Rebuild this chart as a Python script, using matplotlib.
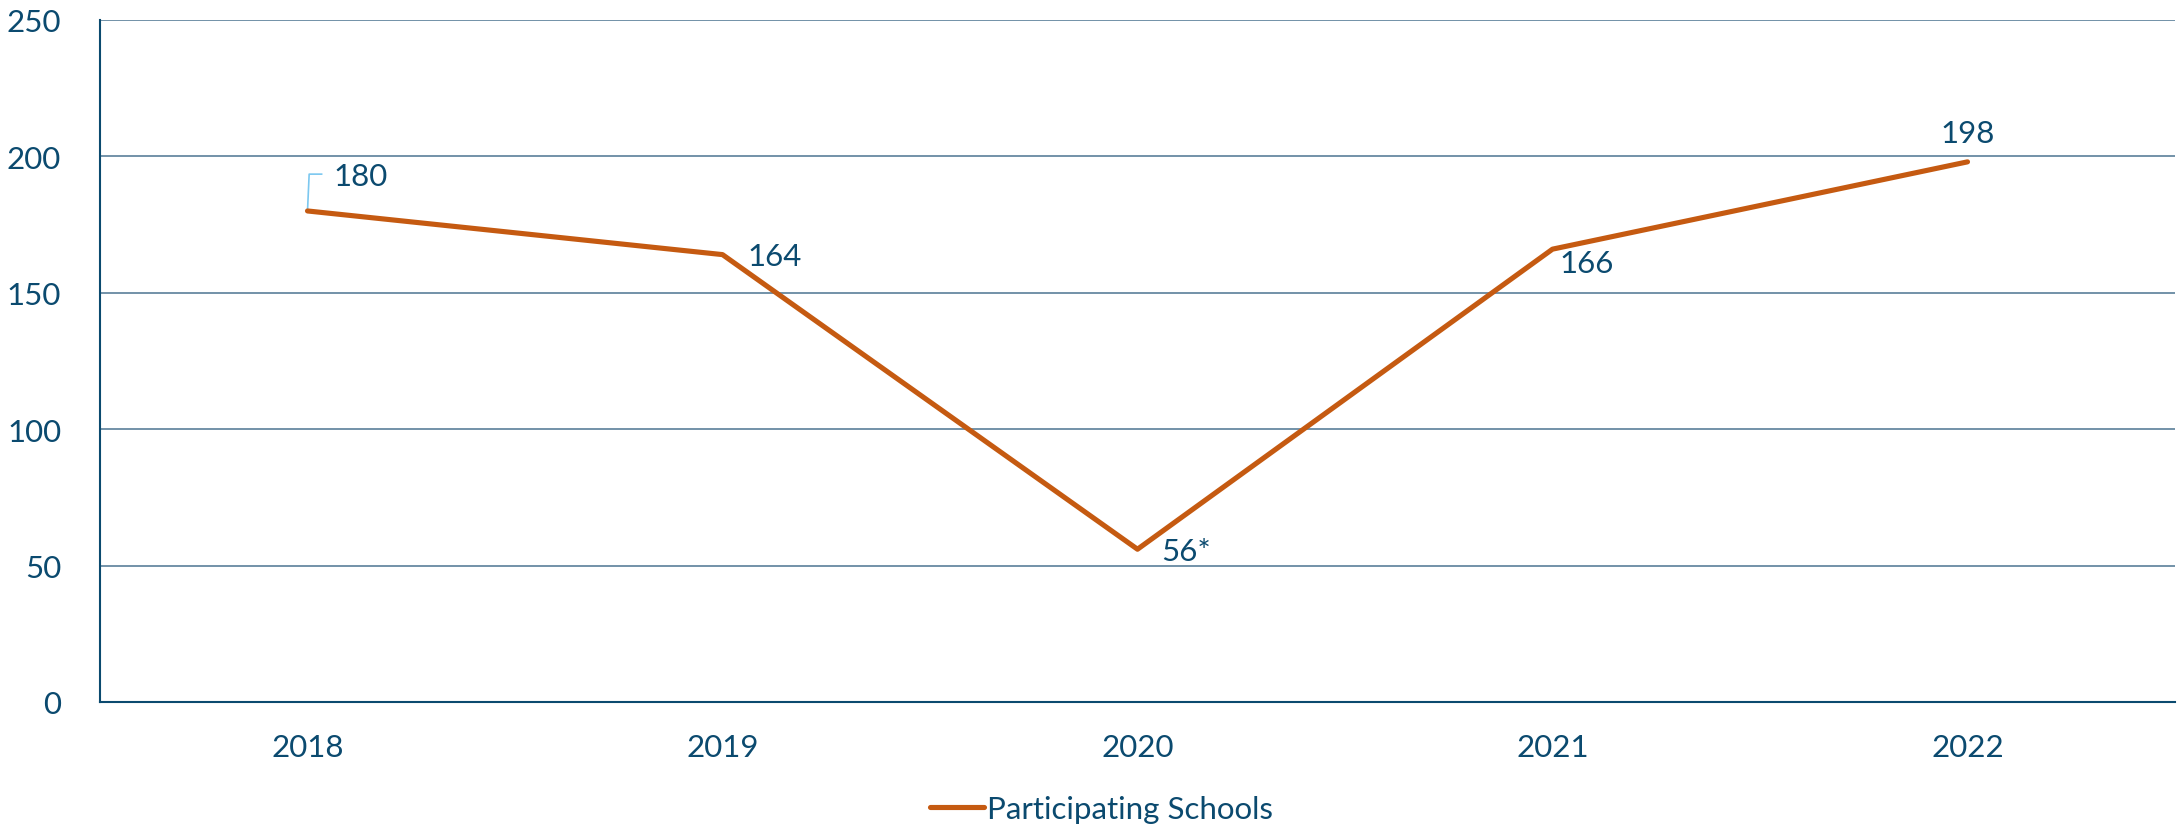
import matplotlib
matplotlib.use("Agg")
from matplotlib import pyplot as plt

# data
years = ['2018', '2019', '2020', '2021', '2022']
schools = [180, 164, 56, 166, 198]
labels = ['180', '164', '56*', '166', '198']

navy = '#0b4a6f'
orange = '#c55a11'
grid_col = '#5a7f99'
fs = 22.5

plt.rcParams['font.family'] = ['Lato', 'DejaVu Sans']

fig = plt.figure(figsize=(21.79, 8.29), dpi=100)
ax = fig.add_axes([100 / 2179, 1 - 703 / 829, 2075 / 2179, 682 / 829])

x = range(len(years))
ax.plot(x, schools, color=orange, lw=3.7, solid_capstyle='round',
        label='Participating Schools', zorder=3)

# data labels (offsets in points)
offsets = [(19, 25, 'left'), (18, -1, 'left'), (17, -1, 'left'), (5, -10, 'left'), (0, 21, 'center')]
for i, (dx, dy, ha) in enumerate(offsets):
    ax.annotate(labels[i], (i, schools[i]), xytext=(dx, dy), textcoords='offset points',
                fontsize=fs, color=navy, va='center', ha=ha)
# leader line for first label
ax.plot([0, 0.004, 0.034], [schools[0], 193.5, 193.5], color='#7cc8f0', lw=1.2, zorder=2)

ax.set_xlim(-0.5, 4.5)
ax.set_ylim(0, 250)
ax.set_yticks(range(0, 251, 50))
ax.set_xticks(list(x))
ax.set_xticklabels(years)
ax.yaxis.grid(True, color=grid_col, lw=1.2)
ax.set_axisbelow(True)

for s in ['top', 'right']:
    ax.spines[s].set_visible(False)
for s in ['left', 'bottom']:
    ax.spines[s].set_color(navy)
    ax.spines[s].set_linewidth(1.5)
ax.tick_params(axis='y', colors=navy, labelsize=fs, length=0, pad=28)
ax.tick_params(axis='x', colors=navy, labelsize=fs, length=0, pad=22)

leg = ax.legend(loc='upper center', bbox_to_anchor=(0.5 - 36 / 2075, -0.095), frameon=False,
                fontsize=fs, handlelength=1.7, handletextpad=0.1)
for t in leg.get_texts():
    t.set_color(navy)

fig.savefig('out.png', dpi=100)
